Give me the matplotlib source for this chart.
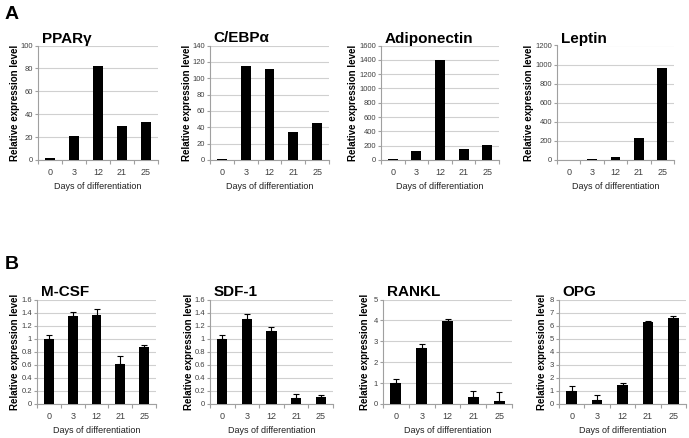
import matplotlib
matplotlib.use("Agg")
import matplotlib.pyplot as plt
from matplotlib import font_manager as fm
import numpy as np

days = ["0", "3", "12", "21", "25"]

pparg = [1.5, 21, 82, 30, 33]
cebpa = [1, 115, 111, 34, 45]
adipo = [10, 130, 1400, 160, 215]
leptin = [5, 15, 35, 230, 960]

mcsf = [1.0, 1.35, 1.37, 0.62, 0.87]
mcsf_err = [0.05, 0.06, 0.09, 0.12, 0.04]
sdf1 = [1.0, 1.30, 1.12, 0.09, 0.11]
sdf1_err = [0.05, 0.08, 0.06, 0.07, 0.03]
rankl = [1.0, 2.70, 3.95, 0.32, 0.15]
rankl_err = [0.22, 0.15, 0.12, 0.30, 0.42]
opg = [1.0, 0.33, 1.45, 6.30, 6.60]
opg_err = [0.35, 0.35, 0.15, 0.05, 0.15]

W, H = 689, 438
fig = plt.figure(figsize=(W / 100, H / 100), dpi=100)
fig.patch.set_facecolor("white")

names = {f.name for f in fm.fontManager.ttflist}
if "Liberation Sans Narrow" in names:
    narrow = dict(family="Liberation Sans Narrow")
    tsz = 6.5
    xl = 7.5
else:
    narrow = dict(family=["Liberation Sans", "DejaVu Sans"])
    tsz = 5.5
    xl = 6.5
bold = dict(family=["Liberation Sans", "DejaVu Sans"], weight="bold")

panels = [
    ("PPARγ", pparg, None, 100, 20),
    ("C/EBPα", cebpa, None, 140, 20),
    ("Adiponectin", adipo, None, 1600, 200),
    ("Leptin", leptin, None, 1200, 200),
    ("M-CSF", mcsf, mcsf_err, 1.6, 0.2),
    ("SDF-1", sdf1, sdf1_err, 1.6, 0.2),
    ("RANKL", rankl, rankl_err, 5, 1),
    ("OPG", opg, opg_err, 8, 1),
]
# pixel layout: left, right, top, bottom, ylabel offset
layout = [
    (38, 158, 45.5, 160, 23),
    (210, 329, 45.5, 160, 22),
    (381, 499, 45.5, 160, 20),
    (557, 674, 45.5, 160, 25),
    (37, 156, 299.5, 404, 22),
    (210, 333, 299.5, 404, 21),
    (383, 512, 299.5, 404, 18),
    (559, 686, 299.5, 404, 17),
]

def fmt(v):
    s = ("%.1f" % v).rstrip("0").rstrip(".")
    return s

axes = []
for (title, vals, err, ymax, step), (x0, x1, yt, yb, lo) in zip(panels, layout):
    ax = fig.add_axes([x0 / W, 1 - yb / H, (x1 - x0) / W, (yb - yt) / H])
    x = np.arange(len(days))
    if err is not None:
        ax.bar(x, vals, width=0.42, color="black", zorder=3,
               yerr=[np.zeros(len(err)), err], capsize=2,
               error_kw=dict(ecolor="black", elinewidth=0.8, capthick=0.8))
    else:
        ax.bar(x, vals, width=0.42, color="black", zorder=3)
    ax.set_xlim(-0.5, 4.5)
    ax.set_ylim(0, ymax)
    ticks = np.arange(0, ymax + step / 2, step)
    ax.set_yticks(ticks)
    ax.set_yticklabels([fmt(t) for t in ticks], fontsize=tsz, color="#404040", **narrow)
    ax.set_xticks(x)
    ax.set_xticklabels(days, fontsize=tsz + 1, color="#404040", **narrow)
    ax.set_xticks(np.arange(-0.5, 5, 1), minor=True)
    ax.tick_params(axis="x", which="major", length=0, pad=6)
    ax.tick_params(axis="x", which="minor", length=3, color="#a0a0a0", width=0.8)
    ax.tick_params(axis="y", length=2, color="#a0a0a0", width=0.8, pad=1.5)
    ax.grid(axis="y", color="#d0d0d0", linewidth=0.8, zorder=0)
    for s in ["top", "right"]:
        ax.spines[s].set_visible(False)
    for s in ["left", "bottom"]:
        ax.spines[s].set_color("#a0a0a0")
        ax.spines[s].set_linewidth(0.8)
    ax.set_ylabel("Relative expression level", fontsize=7, va="center", **bold)
    ax.set_xlabel("Days of differentiation", fontsize=xl, labelpad=3.5, color="#202020", **narrow)
    ax.text(0.03, 1.0, title, transform=ax.transAxes, fontsize=11, va="bottom",
            ha="left", **bold)
    axes.append((ax, x0, x1, lo))

fig.canvas.draw()
r = fig.canvas.get_renderer()
for ax, x0, x1, lo in axes:
    minx = min(t.get_window_extent(r).x0 for t in ax.get_yticklabels())
    need = x0 - minx + 6
    off = max(lo, need)
    ax.yaxis.set_label_coords(-off / (x1 - x0), 0.5)

fig.text(5 / W, 1 - 6 / H, "A", fontsize=14, va="top", ha="left", **bold)
fig.text(5 / W, 1 - 256 / H, "B", fontsize=14, va="top", ha="left", **bold)

fig.savefig("out.png", dpi=100, facecolor="white")
